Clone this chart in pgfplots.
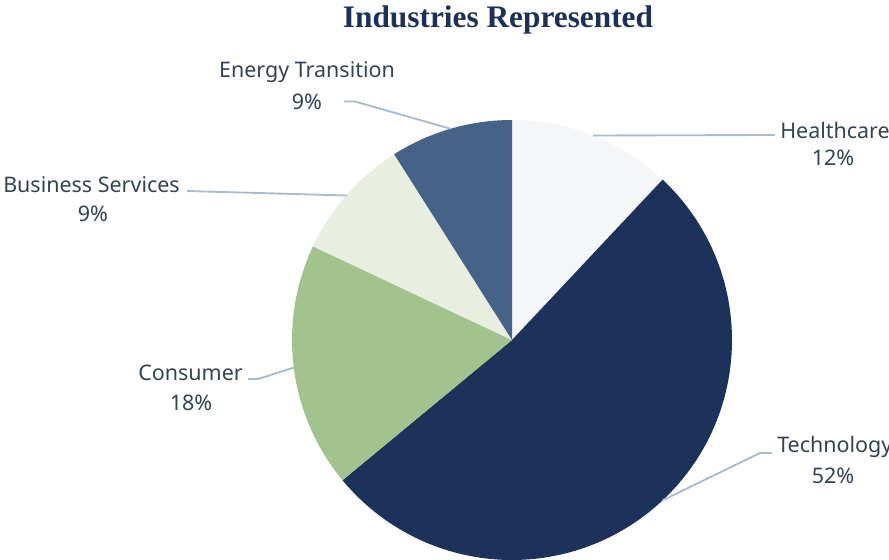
\documentclass[border=0pt]{standalone}
\usepackage{pgfplots}
\usepackage{pgfplotstable}
\pgfplotsset{compat=1.18}
\usepackage{fontspec}
\setmainfont{Noto Sans}
\newfontfamily\titlefont{Liberation Serif}
\definecolor{ch}{HTML}{F4F6F8}
\definecolor{ct}{HTML}{1C325B}
\definecolor{cc}{HTML}{A2C28E}
\definecolor{cb}{HTML}{E8EFE1}
\definecolor{ce}{HTML}{466289}
\definecolor{lc}{HTML}{A9BCCD}
\definecolor{tc}{HTML}{344254}
\definecolor{titlec}{HTML}{1C3158}
\pgfplotstableread{
label pct col
Healthcare 12 ch
Technology 52 ct
Consumer 18 cc
{Business Services} 9 cb
{Energy Transition} 9 ce
}\piedata
\begin{document}
\begin{tikzpicture}[x=0.75pt,y=0.75pt]
\useasboundingbox (0,0) rectangle (889,560);
\begin{axis}[at={(0,0)},anchor=origin,x=0.75pt,y=0.75pt,
  xmin=0,xmax=889,ymin=0,ymax=560,hide axis,clip=false,disabledatascaling]
\def\cum{90}
\pgfplotsforeachungrouped \i in {0,...,4}{%
  \pgfplotstablegetelem{\i}{pct}\of\piedata \let\wp=\pgfplotsretval
  \pgfplotstablegetelem{\i}{col}\of\piedata \let\wcol=\pgfplotsretval
  \pgfmathsetmacro{\wend}{\cum-3.6*\wp}%
  \edef\temp{\noexpand\fill[\wcol] (axis cs:512,220) -- ++(\cum:165pt) arc[start angle=\cum, end angle=\wend, radius=165pt] -- cycle;}%
  \temp
  \let\cum=\wend
}
\draw[lc,line width=1.4pt] (axis cs:344,458.5) -- (axis cs:355,458.5) -- (axis cs:450.6,431.2);
\draw[lc,line width=1.4pt] (axis cs:593,424.5) -- (axis cs:775,425);
\draw[lc,line width=1.4pt] (axis cs:187,369) -- (axis cs:347,364.5);
\draw[lc,line width=1.4pt] (axis cs:248,181) -- (axis cs:258,181) -- (axis cs:293.7,192.4);
\draw[lc,line width=1.4pt] (axis cs:662.6,59.7) -- (axis cs:760,107) -- (axis cs:772,107);
\begin{scope}[every node/.style={text=tc,font=\fontsize{16.1}{19}\selectfont,inner sep=0pt}]
\node at (axis cs:307,488) {Energy Transition};
\node at (axis cs:307,458) {9\%};
\node[anchor=west] at (axis cs:780,430) {Healthcare};
\node at (axis cs:833,402) {12\%};
\node[anchor=east] at (axis cs:180,375) {Business Services};
\node at (axis cs:93,346) {9\%};
\node[anchor=east] at (axis cs:243,187) {Consumer};
\node at (axis cs:191,157) {18\%};
\node[anchor=west] at (axis cs:777,113) {Technology};
\node at (axis cs:833,84) {52\%};
\end{scope}
\node[anchor=base,text=titlec,font=\titlefont\bfseries\fontsize{23.5}{28}\selectfont,inner sep=0pt] at (axis cs:498,532) {Industries Represented};
\end{axis}
\end{tikzpicture}
\end{document}
